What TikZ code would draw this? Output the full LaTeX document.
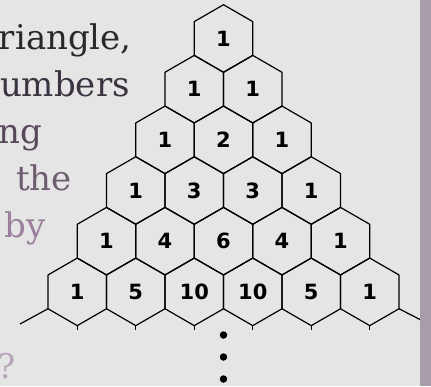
\documentclass[tikz,border=0pt]{standalone}
\usepackage{fontspec}
\usetikzlibrary{calc}
\newfontfamily\txtfont{DejaVu Serif}
\newfontfamily\numfont{DejaVu Sans}
\definecolor{bg}{HTML}{E5E5E5}
\definecolor{strip}{HTML}{A89BAA}
\definecolor{tA}{HTML}{2A282A}
\definecolor{tB}{HTML}{3C3340}
\definecolor{tC}{HTML}{58495A}
\definecolor{tD}{HTML}{6E5C70}
\definecolor{tE}{HTML}{9A809C}
\definecolor{tF}{HTML}{B8A4BA}
\begin{document}
\begin{tikzpicture}[x=1pt,y=-1pt,
  num/.style={inner sep=0pt, font=\numfont\bfseries\fontsize{21}{21}\selectfont},
  hexline/.style={draw=black, line width=1.2pt, line join=round},
  lbl/.style={anchor=base east, inner sep=0pt, font=\txtfont\fontsize{34}{34}\selectfont},
  edge/.style={draw=black, line width=1.2pt},
  dot/.style={circle, fill=black, inner sep=0pt, minimum size=7.5pt}]
\fill[bg] (0,0) rectangle (431,386);
\useasboundingbox (0,0) rectangle (431,386);
% text column
\node[lbl, text=tA] (t1) at (132,49) {riangle,};
\node[lbl, text=tB] (t2) at (130,96) {umbers};
\node[lbl, text=tC] (t3) at (42,143) {ng};
\node[lbl, text=tD] (t4) at (72,190) {the};
\node[lbl, text=tE] (t5) at (46,237) {by};
\node[lbl, text=tF] (t6) at (16,378) {?};
% hexagons with their numbers
\def\R{33.78}
\def\W{29.25}
\foreach \r/\vals in {0/{1},1/{1,1},2/{1,2,1},3/{1,3,3,1},4/{1,4,6,4,1},5/{1,5,10,10,5,1}}{
  \foreach \v [count=\k from 0] in \vals {
    \pgfmathsetmacro{\hx}{223.5+(\k-\r/2)*58.5}
    \pgfmathsetmacro{\hy}{38.5+50.67*\r}
    \draw[hexline] (\hx,\hy-\R) -- (\hx+\W,\hy-\R/2) -- (\hx+\W,\hy+\R/2)
      -- (\hx,\hy+\R) -- (\hx-\W,\hy+\R/2) -- (\hx-\W,\hy-\R/2) -- cycle;
    \node[num] (h\r-\k) at (\hx,\hy) {\v};
    \coordinate (b\r-\k) at (\hx,\hy+\R);
  }
}
% ticks under the bottom row
\foreach \k in {0,...,5}{
  \coordinate (tk\k) at ($(b5-\k)+(0,4)$);
}
\foreach \k in {0,...,5}{
  \draw[edge] (b5-\k) -- (tk\k);
}
% extended side lines
\coordinate (lv) at ($(h5-0)+(-\W,\R/2)$);
\coordinate (rv) at ($(h5-5)+(\W,\R/2)$);
\coordinate (le) at (20,324);
\coordinate (re) at (421,320);
\draw[edge] (lv) -- (le);
\draw[edge] (rv) -- (re);
% dots
\node[dot] (d1) at (223.5,335) {};
\node[dot] (d2) at (223.5,357) {};
\node[dot] (d3) at (223.5,379) {};
% right border strip
\fill[strip] (420,0) rectangle (431,386);
\end{tikzpicture}
\end{document}
